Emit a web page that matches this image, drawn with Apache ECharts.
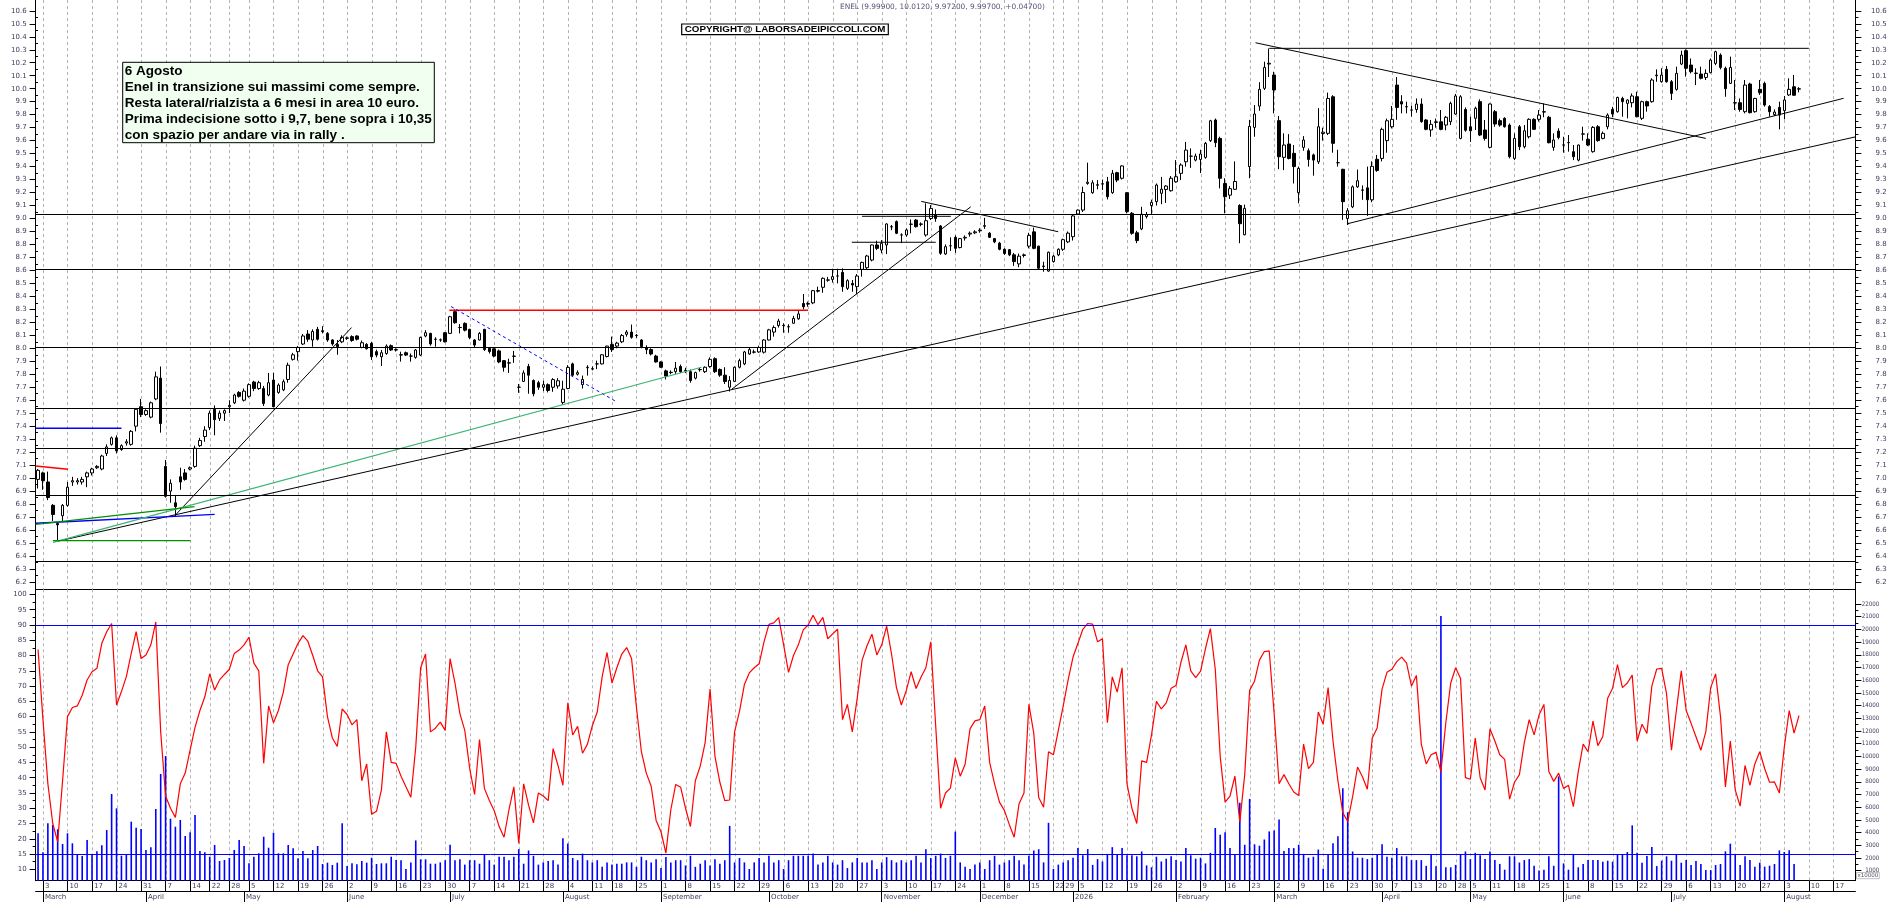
<!DOCTYPE html>
<html><head><meta charset="utf-8">
<script src="https://cdn.jsdelivr.net/npm/echarts@6/dist/echarts.min.js"></script>
<style>html,body{margin:0;padding:0;background:#fff}#c{width:1890px;height:902px}</style>
</head><body><div id="c"></div>
<script>
// ---------- calendar (trading days) ----------
const firstDay = '2025-02-28', lastDay = '2026-08-21';
const closedDays = ['2025-04-18','2025-04-21','2025-05-01','2025-08-15','2025-12-24','2025-12-25','2025-12-26','2025-12-31','2026-01-01','2026-04-03','2026-04-06','2026-04-24','2026-04-27','2026-05-01','2026-05-04'];
const monthNames = ['January','February','March','April','May','June','July','August','September','October','November','December'];

// ---------- price data (one value per trading day) ----------
const openP = [
6.99,7.04,6.97,6.79,6.65,6.71,6.79,6.97,6.97,6.97,
7.01,7.04,7.08,7.07,7.19,7.26,7.31,7.22,7.27,7.26,
7.40,7.55,7.49,7.47,7.61,7.77,7.09,6.90,6.81,7.01,
7.04,7.07,7.09,7.25,7.32,7.39,7.53,7.46,7.50,7.55,
7.58,7.66,7.60,7.63,7.74,7.69,7.69,7.64,7.755,7.66,
7.68,7.76,7.915,7.974,8.033,8.11,8.064,8.146,8.135,8.115,
8.064,8.03,8.05,8.08,8.09,8.095,8.007,8.03,8.038,7.974,
7.935,7.96,8.02,7.99,7.95,7.966,7.94,7.93,7.948,8.095,
8.115,8.07,8.065,8.12,8.115,8.282,8.16,8.192,8.146,8.064,
8.064,8.146,8.0,7.996,7.98,7.905,7.888,7.938,7.70,7.745,
7.86,7.752,7.735,7.70,7.72,7.70,7.71,7.583,7.69,7.88,
7.80,7.72,7.85,7.84,7.88,7.88,7.937,8.03,8.017,8.05,
8.108,8.125,8.10,8.064,8.006,7.99,7.94,7.895,7.826,7.815,
7.82,7.86,7.825,7.82,7.77,7.835,7.82,7.86,7.92,7.837,
7.793,7.70,7.745,7.854,7.88,7.956,7.97,7.972,7.97,8.064,
8.125,8.176,8.175,8.165,8.193,8.227,8.345,8.34,8.35,8.44,
8.47,8.525,8.531,8.557,8.585,8.462,8.50,8.475,8.608,8.621,
8.68,8.796,8.757,8.796,8.935,8.976,8.873,8.873,8.955,8.988,
8.955,8.873,9.0,9.027,8.942,8.727,8.79,8.855,8.776,8.85,
8.88,8.89,8.905,8.94,8.887,8.845,8.81,8.763,8.76,8.72,
8.65,8.715,8.787,8.897,8.787,8.63,8.595,8.668,8.72,8.763,
8.82,8.86,9.035,9.065,9.27,9.199,9.26,9.265,9.283,9.199,
9.353,9.31,9.199,9.04,8.89,8.92,9.015,9.10,9.13,9.194,
9.224,9.214,9.283,9.348,9.437,9.48,9.45,9.455,9.471,9.60,
9.759,9.617,9.27,9.18,9.225,9.10,8.875,9.40,9.702,9.866,
10.003,10.19,10.105,9.754,9.471,9.574,9.502,9.199,9.548,9.522,
9.49,9.437,9.655,9.656,9.938,9.43,9.379,9.0,9.09,9.244,
9.22,9.236,9.144,9.456,9.463,9.60,9.707,10.028,9.90,9.86,
9.835,9.84,9.882,9.759,9.682,9.74,9.745,9.72,9.746,9.805,
9.617,9.84,9.707,9.772,9.90,9.682,9.548,9.823,9.754,9.772,
9.72,9.463,9.707,9.553,9.63,9.764,9.764,9.82,9.78,9.548,
9.674,9.566,9.584,9.515,9.45,9.65,9.61,9.515,9.707,9.617,
9.707,9.84,9.823,9.925,9.887,9.892,9.938,9.772,9.90,9.90,
10.10,10.054,10.149,10.054,9.995,10.19,10.293,10.182,10.12,10.113,
10.087,10.124,10.195,10.259,10.157,10.041,9.89,9.892,9.823,10.036,
9.823,9.995,10.041,9.862,9.80,9.856,9.831,9.952,10.015,9.999];
const closeP = [
7.06,6.98,6.85,6.72,6.64,6.79,6.93,6.98,6.98,6.99,
7.04,7.07,7.09,7.17,7.24,7.31,7.21,7.25,7.28,7.36,
7.53,7.49,7.52,7.58,7.78,7.42,6.86,6.96,6.78,6.97,
6.99,7.08,7.23,7.29,7.37,7.50,7.45,7.50,7.52,7.56,
7.64,7.63,7.67,7.72,7.69,7.735,7.575,7.735,7.55,7.717,
7.743,7.87,7.95,8.007,8.095,8.07,8.13,8.07,8.13,8.064,
8.033,8.012,8.084,8.077,8.06,8.07,8.043,7.997,7.935,7.948,
7.966,8.017,7.987,7.987,7.948,7.948,7.94,7.987,8.084,8.12,
8.033,8.069,8.064,8.05,8.243,8.197,8.161,8.14,8.084,8.025,
8.115,7.99,7.975,7.94,7.895,7.854,7.886,7.94,7.70,7.81,
7.793,7.65,7.70,7.72,7.675,7.759,7.75,7.685,7.853,7.793,
7.813,7.76,7.854,7.843,7.88,7.95,8.017,7.99,8.04,8.098,
8.125,8.085,8.098,8.013,7.99,7.956,7.895,7.854,7.786,7.813,
7.847,7.82,7.83,7.752,7.813,7.837,7.854,7.915,7.82,7.793,
7.745,7.752,7.854,7.905,7.972,7.99,7.972,8.006,8.064,8.142,
8.16,8.21,8.176,8.167,8.23,8.265,8.32,8.345,8.444,8.445,
8.539,8.527,8.552,8.557,8.475,8.521,8.488,8.557,8.662,8.711,
8.796,8.77,8.809,8.958,8.937,8.886,8.873,8.912,8.957,8.937,
8.958,8.983,9.078,9.0,8.732,8.783,8.79,8.77,8.845,8.855,
8.887,8.897,8.91,8.945,8.855,8.82,8.763,8.73,8.72,8.668,
8.71,8.72,8.87,8.77,8.617,8.634,8.74,8.71,8.763,8.837,
8.887,9.02,9.065,9.20,9.28,9.275,9.257,9.268,9.168,9.348,
9.296,9.405,9.053,8.886,8.83,9.033,9.03,9.125,9.258,9.226,
9.25,9.31,9.322,9.412,9.527,9.48,9.481,9.497,9.579,9.753,
9.584,9.31,9.168,9.23,9.285,8.96,9.078,9.71,9.805,9.995,
10.164,10.196,9.99,9.476,9.566,9.463,9.40,9.386,9.605,9.455,
9.45,9.707,9.665,9.925,9.579,9.43,9.13,9.06,9.244,9.291,
9.218,9.144,9.402,9.37,9.687,9.753,9.764,9.856,9.882,9.862,
9.836,9.882,9.746,9.687,9.725,9.745,9.687,9.78,9.887,9.944,
9.938,9.68,9.676,9.849,9.643,9.617,9.882,9.728,9.72,9.707,
9.476,9.617,9.553,9.676,9.764,9.687,9.797,9.823,9.584,9.605,
9.625,9.566,9.585,9.476,9.566,9.652,9.566,9.702,9.60,9.656,
9.797,9.805,9.933,9.90,9.913,9.944,9.784,9.90,9.867,10.067,
10.105,10.105,10.054,9.964,10.118,10.259,10.157,10.131,10.118,10.08,
10.118,10.221,10.285,10.164,10.0,10.164,9.892,9.84,10.028,9.815,
9.925,9.969,9.874,9.823,9.82,9.797,9.913,9.995,9.95,9.997];
const lowP = [
6.92,6.91,6.83,6.67,6.52,6.67,6.78,6.94,6.95,6.95,
6.93,7.02,7.07,7.06,7.17,7.25,7.19,7.21,7.25,7.25,
7.36,7.47,7.48,7.46,7.60,7.35,6.85,6.81,6.70,6.91,
6.98,7.06,7.08,7.24,7.28,7.37,7.33,7.44,7.44,7.50,
7.57,7.62,7.59,7.62,7.67,7.68,7.555,7.63,7.545,7.65,
7.67,7.735,7.905,7.905,8.025,8.05,8.012,8.06,8.115,8.05,
8.02,7.95,8.04,8.065,8.05,8.06,8.0,7.99,7.91,7.93,
7.864,7.95,7.98,7.975,7.897,7.94,7.897,7.92,7.94,8.085,
8.02,8.012,8.05,8.045,8.11,8.19,8.115,8.13,8.07,8.01,
8.06,7.98,7.96,7.93,7.885,7.82,7.81,7.888,7.657,7.74,
7.65,7.63,7.68,7.67,7.66,7.665,7.69,7.565,7.685,7.78,
7.79,7.69,7.79,7.83,7.84,7.875,7.93,7.972,8.0,8.04,
8.09,8.074,8.08,8.0,7.955,7.945,7.89,7.85,7.76,7.80,
7.803,7.81,7.81,7.735,7.76,7.82,7.81,7.85,7.81,7.78,
7.725,7.667,7.74,7.845,7.87,7.95,7.96,7.965,7.96,8.06,
8.09,8.16,8.12,8.12,8.19,8.22,8.30,8.32,8.34,8.43,
8.428,8.513,8.506,8.50,8.436,8.449,8.436,8.418,8.552,8.61,
8.67,8.757,8.732,8.726,8.91,8.88,8.81,8.86,8.886,8.93,
8.94,8.86,8.988,8.975,8.72,8.72,8.75,8.735,8.77,8.83,
8.86,8.88,8.89,8.92,8.85,8.81,8.755,8.72,8.71,8.635,
8.625,8.70,8.77,8.763,8.61,8.59,8.59,8.66,8.71,8.75,
8.81,8.83,9.03,9.05,9.26,9.19,9.225,9.22,9.147,9.19,
9.28,9.30,9.04,8.875,8.81,8.91,9.0,9.03,9.10,9.11,
9.12,9.207,9.276,9.296,9.40,9.39,9.44,9.35,9.46,9.59,
9.55,9.232,9.04,9.15,9.22,8.81,8.87,9.31,9.63,9.83,
9.99,10.09,9.81,9.38,9.373,9.455,9.27,9.117,9.522,9.40,
9.33,9.42,9.60,9.643,9.507,9.40,8.99,8.95,9.08,9.236,
9.144,9.02,9.125,9.36,9.44,9.507,9.694,9.76,9.81,9.81,
9.785,9.815,9.738,9.68,9.63,9.70,9.68,9.68,9.72,9.80,
9.61,9.669,9.59,9.682,9.635,9.60,9.54,9.707,9.707,9.70,
9.463,9.45,9.527,9.54,9.617,9.682,9.746,9.78,9.579,9.522,
9.61,9.507,9.515,9.45,9.44,9.60,9.558,9.507,9.592,9.61,
9.687,9.78,9.815,9.784,9.772,9.856,9.78,9.759,9.823,9.892,
10.054,10.046,10.046,9.913,9.985,10.182,10.093,10.118,10.028,10.072,
10.067,10.118,10.182,10.149,9.938,10.036,9.836,9.823,9.81,9.81,
9.815,9.952,9.862,9.784,9.79,9.687,9.764,9.944,9.944,9.972];
const highP = [
7.07,7.05,7.05,6.80,6.66,6.80,6.97,7.01,7.00,7.01,
7.05,7.08,7.10,7.18,7.26,7.32,7.33,7.26,7.30,7.37,
7.54,7.61,7.53,7.59,7.82,7.86,7.14,6.99,6.87,7.08,
7.07,7.09,7.25,7.31,7.40,7.52,7.56,7.52,7.53,7.60,
7.65,7.67,7.69,7.73,7.75,7.75,7.71,7.81,7.81,7.73,
7.76,7.89,7.965,8.017,8.11,8.14,8.146,8.165,8.17,8.125,
8.07,8.064,8.10,8.09,8.10,8.10,8.06,8.04,8.05,7.99,
7.987,8.03,8.03,8.0,7.974,7.975,7.96,7.995,8.09,8.14,
8.12,8.085,8.075,8.125,8.25,8.30,8.187,8.20,8.15,8.07,
8.125,8.15,8.01,8.0,7.99,7.91,7.92,7.98,7.725,7.83,
7.88,7.76,7.75,7.75,7.73,7.77,7.77,7.75,7.87,7.89,
7.83,7.79,7.87,7.86,7.905,7.955,8.02,8.09,8.05,8.11,
8.14,8.183,8.11,8.07,8.023,8.0,7.95,7.90,7.836,7.83,
7.895,7.875,7.85,7.836,7.82,7.85,7.86,7.93,7.93,7.845,
7.854,7.786,7.86,7.92,7.98,8.006,7.99,8.02,8.07,8.15,
8.176,8.227,8.193,8.186,8.25,8.29,8.418,8.36,8.45,8.475,
8.547,8.55,8.613,8.613,8.616,8.532,8.526,8.572,8.667,8.72,
8.80,8.829,8.834,8.963,8.95,8.985,8.886,8.924,8.993,8.995,
8.97,9.117,9.104,9.07,8.95,8.80,8.855,8.87,8.85,8.87,
8.90,8.91,8.925,9.005,8.895,8.85,8.82,8.77,8.765,8.735,
8.73,8.73,8.89,8.93,8.79,8.667,8.745,8.72,8.77,8.845,
8.90,9.03,9.07,9.245,9.43,9.295,9.296,9.30,9.32,9.374,
9.36,9.41,9.20,9.05,8.905,9.09,9.05,9.145,9.27,9.32,
9.257,9.327,9.45,9.425,9.59,9.54,9.50,9.53,9.59,9.76,
9.77,9.63,9.31,9.25,9.44,9.11,9.107,9.76,9.874,10.05,
10.208,10.31,10.13,9.79,9.656,9.65,9.566,9.40,9.635,9.54,
9.50,9.85,9.70,9.97,9.95,9.53,9.383,9.08,9.255,9.377,
9.255,9.40,9.44,9.49,9.70,9.77,9.867,10.09,9.95,9.90,
9.87,9.925,9.925,9.765,9.759,9.77,9.836,9.79,9.90,9.96,
9.95,9.856,9.784,9.862,9.918,9.759,9.887,9.836,9.77,9.78,
9.733,9.656,9.72,9.72,9.772,9.772,9.836,9.887,9.79,9.656,
9.695,9.63,9.643,9.566,9.57,9.707,9.656,9.712,9.72,9.67,
9.81,9.86,9.938,9.938,9.918,9.964,9.977,9.908,9.908,10.08,
10.149,10.157,10.175,10.067,10.17,10.293,10.303,10.233,10.157,10.17,
10.149,10.233,10.293,10.272,10.17,10.247,10.067,9.925,10.067,10.046,
9.93,10.067,10.054,9.874,9.84,9.90,9.944,10.08,10.106,10.012];

// ---------- oscillator (left lower axis) ----------
const oscValues = [
82,59,38,25,19,39,60,63,63.5,67,
72,74.7,75.8,84,87.8,90.5,63.8,68.2,73.1,80.7,
87.8,79,80.2,83.5,91,55,34,30,27,38,
41.5,49,56.5,62,66.5,74,68.7,72,73.8,75.5,
80.7,81.8,83.5,86,77.5,75,44.7,63.5,58,62,
68,77,80.5,84,86.5,84.7,80,75,73,60,
53,50.2,62.5,60.7,57.3,59,39,44.5,28,29,
36,55,45,44.7,40.5,37,33.6,50,76,80.5,
55,56.2,58.2,55.5,79,71,61,55.5,43,34.5,
52.5,36.5,32.5,29.2,24,20.5,29.5,37,18.5,38,
31,25.2,35,34,32.5,49.5,44,37.5,64.5,54,
56.8,48,51,57,61.5,73,81,71,76,80.5,
82.6,79,63,48.5,41.5,37.2,26,22.3,15.3,29.5,
37.8,36.9,30,24,39,43.8,51.5,69,47,38.5,
32.5,32.7,55,61.7,70.5,74.3,76,77.3,84.5,90.2,
90.7,92.4,83.5,74.5,80,83.5,88.4,90,93.2,90.1,
92.5,85.5,87.1,88.6,59,64,55,66,78.5,83.2,
87,80.2,83.5,89.6,80.5,69.5,63.8,68.5,74.7,69.2,
72.9,76,84.5,57,30,35,36.6,46.5,40.5,44.4,
56,58.6,59,63.5,45,38,32,29.3,24.7,20.5,
31.5,35,64,54.5,33.5,30.3,48.5,47.5,55.5,63.5,
72,79.5,84,88.6,90.5,90.3,84.5,85.5,58,73,
68,76,38,30,25,45.5,45,54,65,62.5,
64.5,69.3,70.2,77.8,83.5,75,72.8,74.9,82.3,88.8,
75.5,47,32,34,40.5,25.5,41,68.6,71.6,78.5,
81.3,81.5,61,38,41,38,35.3,34.2,51,43,
45,61.5,57.5,69.5,52,39,28.5,25.7,33.8,43.5,
40.3,36.2,53,56.3,69,74.5,75.5,78,79.5,77.5,
70,73.5,51,44.5,47.5,48.3,42,58,71,76,
72.5,40,39.5,53,40,36,56,52,47.5,46,
33,38.5,41,51.5,59,54,60.5,64,42,38.8,
41.5,36.5,37.5,30.5,42,51,48.5,58.5,50.5,53.5,
66,69.3,77,69.5,71,73.6,52,57.5,54.5,70,
75.6,75.8,67.5,49,62,75,62,57.8,53.4,49,
55,69.5,74,60,37,52,36,30.7,44,37.5,
44.5,48.5,43,38.5,38.6,35,50,62,54.6,60.3];

// ---------- volume (right lower axis, x10000) ----------
const volValues = [
3945,2449,4733,4600,4260,3100,3945,3157,2315,2160,
3420,2315,2528,3000,4200,7040,5910,2180,2236,4858,
4390,4285,2630,2843,5860,8615,10030,5095,4465,4993,
3733,4024,5386,2551,2449,2102,3024,1763,1843,2000,
2630,3420,2945,1583,2102,2370,3677,2811,3993,2370,
2370,3024,2764,1977,2551,1977,2630,2945,1528,1630,
1449,1630,4733,1370,1583,1504,1764,1630,2024,1528,
1583,1583,2102,1843,
1827,1134,1654,3386,1898,1898,1551,1551,1654,1827,
3040,1827,1898,1480,1827,1827,1551,2244,1827,1480,
2103,2103,1827,2103,2693,1551,2591,2173,1480,1654,
1756,1827,1480,3559,3142,2000,1827,2347,1827,1654,
1827,1307,1654,1480,1551,1551,1654,1654,1307,2103,
1827,1654,1898,1205,2071,1654,1827,1827,1410,2173,
1307,1551,1827,1410,1898,1551,1827,4528,1654,2000,
1654,1134,1654,2000,1654,2173,1654,1827,1134,1827,
2173,2173,2173,2173,2347,1480,1654,2173,1654,1480,
1827,1205,1654,2000,1654,1654,1827,1134,1654,2071,
1827,1654,1827,1654,1827,2173,1654,2693,2000,2173,
2347,2000,2173,4079,1654,1307,1134,1480,1654,1134,
1827,2173,1480,1654,1827,2173,1827,1480,2173,2591,
2693,1654,4772,1134,1480,1654,1827,
2024,2780,2213,2701,1457,1914,1725,2323,2851,2323,
2780,2213,2213,2134,2512,1417,1268,2103,1725,1945,
2134,1835,1725,2780,2213,1945,2024,1575,2402,4363,
3835,4024,2780,2284,6355,3040,6654,3079,2969,3457,
4095,4174,5040,2551,2780,2780,3040,2323,2024,2103,
2662,1158,2323,3158,3717,7489,5607,2512,2024,2024,
1914,2024,2284,3079,2103,2024,2780,2134,2134,1835,
1835,1835,1386,2323,1346,21049,1268,1268,1457,2284,
2512,1914,2402,2213,1914,2512,1835,1536,1079,2134,
2134,1646,1835,1914,1386,1008,1079,2134,1386,8426,
1575,1079,2323,1268,1536,1835,1835,1835,
1709,1787,1709,2260,2260,2472,4572,2420,1630,2155,
2864,1367,1787,2130,1787,2288,1630,1840,1446,1760,
1525,1052,1052,1446,1525,2524,3127,2260,1446,2130,
1840,1315,1630,1315,1393,1525,2603,2472,2603,1525,
null];

// ---------- tick labels ----------
const priceTicks = [6.2,6.3,6.4,6.5,6.6,6.7,6.8,6.9,7.0,7.1,7.2,7.3,7.4,7.5,7.6,7.7,7.8,7.9,8.0,8.1,8.2,8.3,8.4,8.5,8.6,8.7,8.8,8.9,9.0,9.1,9.2,9.3,9.4,9.5,9.6,9.7,9.8,9.9,10.0,10.1,10.2,10.3,10.4,10.5,10.6];
const oscTicks = [10,15,20,25,30,35,40,45,50,55,60,65,70,75,80,85,90,95,100];
const volTicks = [1000,2000,3000,4000,5000,6000,7000,8000,9000,10000,11000,12000,13000,14000,15000,16000,17000,18000,19000,20000,21000,22000];

// ---------- drawn levels and trendlines (index, price) ----------
const supportLevels = [9.032, 8.613, 8.012, 7.545, 7.23, 6.867, 6.356];
const oscLevels = [90, 15];
const trendBlack = [
  [[4.06,6.514],[370.5,9.629]],
  [[27.87,6.71],[63.92,8.16]],
  [[141.4,7.684],[190.15,9.09]],
  [[180.05,9.132],[207.98,8.898]],
  [[248.2,10.354],[340.0,9.617]],
  [[267.0,8.96],[368.1,9.926]],
  [[251,10.311],[361,10.311]],
  [[167.97,9.017],[186.1,9.017]],
  [[165.9,8.817],[183.0,8.817]]
];
const trendRed = [ [[83.85,8.293],[157.0,8.293]], [[-0.5,7.093],[6.1,7.068]] ];
const trendBlueDash = [ [[84.2,8.322],[117.9,7.589]] ];
const trendBlue = [ [[-0.5,6.652],[36.0,6.72]], [[-0.5,7.384],[17.0,7.384]] ];
const trendSeaGreen = [ [[3.04,6.505],[135.25,7.854]] ];
const trendGreen = [ [[3.04,6.518],[31.07,6.518]], [[-0.5,6.644],[31.9,6.78]] ];

const noteLines = ['6 Agosto','Enel in transizione sui massimi come sempre.','Resta lateral/rialzista a 6 mesi in area 10 euro.','Prima indecisione sotto i 9,7, bene sopra i 10,35','con spazio per andare via in rally .'];
const titleText = 'ENEL (9.99900, 10.0120, 9.97200, 9.99700, +0.04700)';
const copyrightText = 'COPYRIGHT@ LABORSADEIPICCOLI.COM';

// ---------- build ----------
function buildDates(){
  const out=[]; const closed=new Set(closedDays);
  let d=new Date(firstDay+'T00:00:00Z'); const end=new Date(lastDay+'T00:00:00Z');
  while(d<=end){ const wd=d.getUTCDay(); const s=d.toISOString().slice(0,10);
    if(wd!==0&&wd!==6&&!closed.has(s)) out.push(s);
    d=new Date(d.getTime()+86400000);} return out;
}
const dates = buildDates();
function mondayKey(s){const d=new Date(s+'T00:00:00Z');const wd=(d.getUTCDay()+6)%7;return d.getTime()-wd*86400000;}
const weekStart = dates.map((s,i)=> i>0 && mondayKey(s)!==mondayKey(dates[i-1]));
const monthStart = dates.map((s,i)=> i>0 && s.slice(0,7)!==dates[i-1].slice(0,7));
const weekFn = (i)=> !!weekStart[i];
const monthFn = (i)=> !!monthStart[i];
const weekIdx = []; weekStart.forEach((w,i)=>{ if(w) weekIdx.push(i); });

const candleData = openP.map((o,i)=>[o, closeP[i], lowP[i], highP[i]]);

const P_MIN=6.1433, P_MAX=10.6834, OSC_MIN=6.27, OSC_MAX=101.69, VOL_MIN=212.5, VOL_MAX=23160;
const LBL='#3d3d5c', FONT='DejaVu Sans';
const priceMinor = priceTicks.slice(0,-1).map((v,i)=>(v+priceTicks[i+1])/2);
const oscMinor = oscTicks.slice(0,-1).map((v,i)=>(v+oscTicks[i+1])/2);
const volMinor = volTicks.slice(0,-1).map((v,i)=>(v+volTicks[i+1])/2);

function yAx(grid,pos,min,max,ticks,fmt,margin,align,font,size){
  return {type:'value',gridIndex:grid,position:pos,min:min,max:max,
    axisLine:{show:true,onZero:false,lineStyle:{color:'#000',width:1}},
    axisTick:{show:true,length:6,customValues:ticks,lineStyle:{color:'#000'}},
    axisLabel:{show:true,customValues:ticks,formatter:fmt,margin:margin,align:align,color:LBL,fontFamily:font,fontSize:size},
    splitLine:{show:false}};
}
function yMinor(grid,pos,min,max,ticks){
  return {type:'value',gridIndex:grid,position:pos,min:min,max:max,
    axisLine:{show:false},axisTick:{show:true,length:3,customValues:ticks,lineStyle:{color:'#000'}},
    axisLabel:{show:false},splitLine:{show:false}};
}
// vertical weekly dashed grid lines, positioned by the category axis
function weekGridSeries(xi,yi,yRef){
  return {type:'custom',xAxisIndex:xi,yAxisIndex:yi,z:1,silent:true,animation:false,
    data:weekIdx.map(i=>[i,yRef]),
    renderItem:function(params,api){
      const p=api.coord([api.value(0),api.value(1)]);
      const cs=params.coordSys; const x=Math.round(p[0])+0.5;
      return {type:'line',silent:true,shape:{x1:x,y1:cs.y,x2:x,y2:cs.y+cs.height},
        style:{stroke:'#b4b4b4',lineWidth:1,lineDash:[3,3]}};
    }};
}

const series = [];
series.push(weekGridSeries(0,0,8));
series.push(weekGridSeries(1,2,50));
series.push({type:'candlestick',name:'ENEL',xAxisIndex:0,yAxisIndex:0,data:candleData,barWidth:3,z:3,
  itemStyle:{color:'#ffffff',color0:'#000000',borderColor:'#000000',borderColor0:'#000000',borderWidth:1},
  markLine:{silent:true,symbol:['none','none'],label:{show:false},animation:false,
    lineStyle:{color:'#000',width:1.2,type:'solid'},data:supportLevels.map(v=>({yAxis:v}))}});
function addLines(list,color,width,type){
  list.forEach(seg=>series.push({type:'line',xAxisIndex:2,yAxisIndex:0,data:seg,symbol:'none',silent:true,z:4,
    lineStyle:{color:color,width:width,type:type},animation:false}));
}
addLines(trendBlack,'#000000',1,'solid');
addLines(trendRed,'#ff0000',1.4,'solid');
addLines(trendBlueDash,'#0000ff',1,[3,3]);
addLines(trendBlue,'#0000ff',1.3,'solid');
addLines(trendSeaGreen,'#3cb371',1.2,'solid');
addLines(trendGreen,'#009000',1.3,'solid');
series.push({type:'bar',name:'Volume',xAxisIndex:1,yAxisIndex:3,data:volValues,barWidth:1.6,z:2,
  itemStyle:{color:'#0000ff'},animation:false});
series.push({type:'line',name:'Osc',xAxisIndex:1,yAxisIndex:2,data:oscValues,symbol:'none',z:4,
  lineStyle:{color:'#ff0000',width:1.2},animation:false,
  markLine:{silent:true,symbol:['none','none'],label:{show:false},animation:false,
    lineStyle:{color:'#0000ff',width:1,type:'solid'},data:oscLevels.map(v=>({yAxis:v}))}});

const option = {
  animation:false,
  backgroundColor:'#ffffff',
  grid:[
    {left:35.6,right:34.6,top:0,height:589.3,outerBoundsMode:'none',containLabel:false},
    {left:35.6,right:34.6,top:589.3,height:291.4,outerBoundsMode:'none',containLabel:false}
  ],
  xAxis:[
    {type:'category',gridIndex:0,data:dates,position:'bottom',boundaryGap:true,
      axisLine:{show:true,lineStyle:{color:'#000',width:1}},axisTick:{show:false},axisLabel:{show:false},splitLine:{show:false}},
    {type:'category',gridIndex:1,data:dates,position:'bottom',boundaryGap:true,
      axisLine:{show:true,lineStyle:{color:'#000',width:1}},
      axisTick:{show:true,interval:weekFn,alignWithLabel:true,length:10.3,lineStyle:{color:'#000'}},
      axisLabel:{show:true,interval:weekFn,formatter:(v)=>String(parseInt(v.slice(8),10)),align:'left',padding:[0,0,0,2],margin:1.8,color:LBL,fontFamily:FONT,fontSize:7,lineHeight:8},
      splitLine:{show:false}},
    {type:'value',gridIndex:0,min:-0.5,max:370.5,show:false,position:'top',splitLine:{show:false}},
    {type:'category',gridIndex:1,data:dates,position:'bottom',offset:10.3,boundaryGap:true,
      axisLine:{show:true,lineStyle:{color:'#000',width:1}},
      axisTick:{show:true,interval:monthFn,alignWithLabel:true,length:11,lineStyle:{color:'#000'}},
      axisLabel:{show:true,interval:monthFn,formatter:(v)=>{const m=parseInt(v.slice(5,7),10)-1;return m===0?v.slice(0,4):monthNames[m];},align:'left',padding:[0,0,0,2],margin:1.8,color:LBL,fontFamily:FONT,fontSize:7,lineHeight:8},
      splitLine:{show:false}}
  ],
  yAxis:[
    yAx(0,'left',P_MIN,P_MAX,priceTicks,v=>v.toFixed(1),8.9,'right',FONT,7),
    yAx(0,'right',P_MIN,P_MAX,priceTicks,v=>v.toFixed(1),31.3,'right',FONT,7),
    yAx(1,'left',OSC_MIN,OSC_MAX,oscTicks,v=>String(Math.round(v)),8.9,'right',FONT,7),
    yAx(1,'right',VOL_MIN,VOL_MAX,volTicks,v=>String(Math.round(v)),24,'right','DejaVu Sans Condensed',6.2),
    yMinor(0,'left',P_MIN,P_MAX,priceMinor),
    yMinor(0,'right',P_MIN,P_MAX,priceMinor),
    yMinor(1,'left',OSC_MIN,OSC_MAX,oscMinor),
    yMinor(1,'right',VOL_MIN,VOL_MAX,volMinor)
  ],
  series:series,
  graphic:[
    {type:'text',left:840,top:4,z:100,style:{text:titleText,fill:'#55557a',font:'7.4px "DejaVu Sans"'}},
    {type:'rect',shape:{x:681.7,y:24,width:206.6,height:10.7},z:100,style:{fill:'#ffffff',stroke:'#000',lineWidth:1.2}},
    {type:'text',x:785,y:29.6,z:101,style:{text:copyrightText,fill:'#000',font:'bold 9.8px "Liberation Sans"',textAlign:'center',textVerticalAlign:'middle'}},
    {type:'rect',shape:{x:122.7,y:62.3,width:311.6,height:80.4},z:100,style:{fill:'#f0fff0',stroke:'#000',lineWidth:1}},
    {type:'text',x:124.8,y:62.8,z:101,style:{text:noteLines.join('\n'),fill:'#000',font:'bold 13.5px "Liberation Sans"',lineHeight:16,textVerticalAlign:'top'}},
    {type:'rect',shape:{x:1856.5,y:872.5,width:22.8,height:6.2},z:100,style:{fill:'#fff',stroke:'#999',lineWidth:0.6}},
    {type:'text',x:1857.5,y:875.6,z:101,style:{text:'x10000',fill:'#555',font:'5.5px "DejaVu Sans"',textVerticalAlign:'middle'}}
  ]
};
const chart = echarts.init(document.getElementById('c'),null,{renderer:'canvas'});
chart.setOption(option);
</script></body></html>
